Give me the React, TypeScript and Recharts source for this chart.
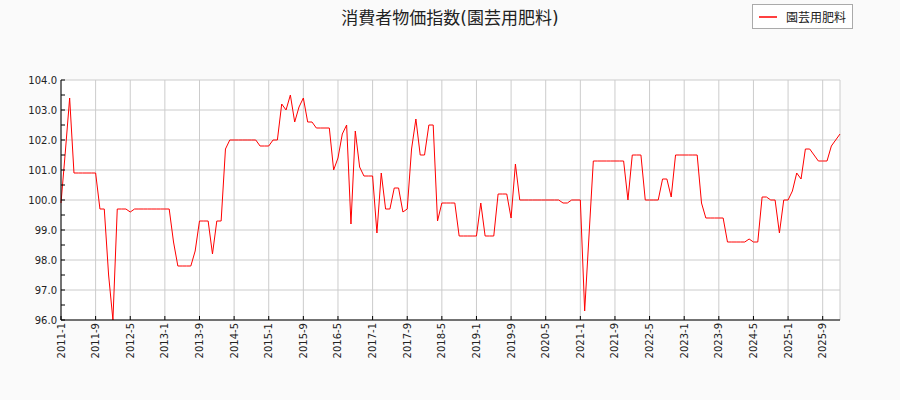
import React from 'react';
import { LineChart, Line, XAxis, YAxis, CartesianGrid, Legend } from 'recharts';

// monthly index values, one array per year (starting January)
const firstYear = 2011;
const v2011 = [99.9, 101.6, 103.4, 100.9, 100.9, 100.9, 100.9, 100.9, 100.9, 99.7, 99.7, 97.5];
const v2012 = [96.0, 99.7, 99.7, 99.7, 99.6, 99.7, 99.7, 99.7, 99.7, 99.7, 99.7, 99.7];
const v2013 = [99.7, 99.7, 98.6, 97.8, 97.8, 97.8, 97.8, 98.3, 99.3, 99.3, 99.3, 98.2];
const v2014 = [99.3, 99.3, 101.7, 102.0, 102.0, 102.0, 102.0, 102.0, 102.0, 102.0, 101.8, 101.8];
const v2015 = [101.8, 102.0, 102.0, 103.2, 103.0, 103.5, 102.6, 103.1, 103.4, 102.6, 102.6, 102.4];
const v2016 = [102.4, 102.4, 102.4, 101.0, 101.4, 102.2, 102.5, 99.2, 102.3, 101.1, 100.8, 100.8];
const v2017 = [100.8, 98.9, 100.9, 99.7, 99.7, 100.4, 100.4, 99.6, 99.7, 101.7, 102.7, 101.5];
const v2018 = [101.5, 102.5, 102.5, 99.3, 99.9, 99.9, 99.9, 99.9, 98.8, 98.8, 98.8, 98.8];
const v2019 = [98.8, 99.9, 98.8, 98.8, 98.8, 100.2, 100.2, 100.2, 99.4, 101.2, 100.0, 100.0];
const v2020 = [100.0, 100.0, 100.0, 100.0, 100.0, 100.0, 100.0, 100.0, 99.9, 99.9, 100.0, 100.0];
const v2021 = [100.0, 96.3, 98.8, 101.3, 101.3, 101.3, 101.3, 101.3, 101.3, 101.3, 101.3, 100.0];
const v2022 = [101.5, 101.5, 101.5, 100.0, 100.0, 100.0, 100.0, 100.7, 100.7, 100.1, 101.5, 101.5];
const v2023 = [101.5, 101.5, 101.5, 101.5, 99.9, 99.4, 99.4, 99.4, 99.4, 99.4, 98.6, 98.6];
const v2024 = [98.6, 98.6, 98.6, 98.7, 98.6, 98.6, 100.1, 100.1, 100.0, 100.0, 98.9, 100.0];
const v2025 = [100.0, 100.3, 100.9, 100.7, 101.7, 101.7, 101.5, 101.3, 101.3, 101.3, 101.8, 102.0];
const v2026 = [102.2];
const yearlyValues = [v2011, v2012, v2013, v2014, v2015, v2016, v2017, v2018, v2019, v2020, v2021, v2022, v2023, v2024, v2025, v2026];

const xTickLabels = [
  '2011-1', '2011-9', '2012-5', '2013-1', '2013-9', '2014-5', '2015-1', '2015-9',
  '2016-5', '2017-1', '2017-9', '2018-5', '2019-1', '2019-9', '2020-5', '2021-1',
  '2021-9', '2022-5', '2023-1', '2023-9', '2024-5', '2025-1', '2025-9',
];
const yMajorTicks = [96, 97, 98, 99, 100, 101, 102, 103, 104];
const yMinorTicks = [96.5, 97.5, 98.5, 99.5, 100.5, 101.5, 102.5, 103.5];

const seriesName = '園芸用肥料';
const title = '消費者物価指数(園芸用肥料)';

const data = yearlyValues.flatMap((vals, i) =>
  vals.map((value, m) => ({ month: `${firstYear + i}-${m + 1}`, value }))
);

const fontFamily = '"DejaVu Sans", "Noto Sans CJK JP", sans-serif';

function XTick(props: any) {
  const { x, y, payload } = props;
  return (
    <text
      x={x}
      y={y}
      transform={`rotate(-90, ${x}, ${y})`}
      dy="0.35em"
      textAnchor="end"
      fontSize={10}
      fill="#222"
      fontFamily={fontFamily}
    >
      {payload.value}
    </text>
  );
}

function YTick(props: any) {
  const { x, y, payload } = props;
  if (!yMajorTicks.includes(payload.value)) return null;
  return (
    <text x={x} y={y} dy="0.35em" textAnchor="end" fontSize={10} fill="#222" fontFamily={fontFamily}>
      {Number(payload.value).toFixed(1)}
    </text>
  );
}

function LegendBox(props: any) {
  const item = props.payload?.[0];
  return (
    <div
      style={{
        display: 'flex',
        alignItems: 'center',
        border: '1px solid #aaa',
        background: '#fff',
        padding: '3px 6px 3px 4px',
        fontSize: 12,
        fontFamily,
        color: '#222',
      }}
    >
      <svg width={22} height={10} style={{ marginRight: 7 }}>
        <line x1={2} y1={5} x2={20} y2={5} stroke={item?.color ?? '#ff0000'} strokeWidth={1.5} />
      </svg>
      {item?.value ?? seriesName}
    </div>
  );
}

export default function App() {
  return (
    <div style={{ position: 'absolute', left: 0, top: 0, width: 900, height: 400, background: '#fafafa' }}>
      <div
        style={{
          position: 'absolute',
          top: 8,
          left: 0,
          width: 900,
          textAlign: 'center',
          fontSize: 17,
          lineHeight: '20px',
          fontFamily,
          color: '#222',
        }}
      >
        {title}
      </div>
      <LineChart width={900} height={400} data={data} margin={{ top: 80, right: 60, bottom: 0, left: 0 }}>
        <CartesianGrid fill="#ffffff" stroke="#cccccc" horizontalValues={yMajorTicks} />
        <XAxis
          dataKey="month"
          ticks={xTickLabels}
          interval={0}
          height={80}
          tickSize={-4}
          tickMargin={7}
          tick={<XTick />}
          axisLine={{ stroke: '#000' }}
          tickLine={{ stroke: '#000' }}
        />
        <YAxis
          domain={[96, 104]}
          ticks={[...yMajorTicks, ...yMinorTicks].sort((a, b) => a - b)}
          interval={0}
          width={61}
          tickSize={-4}
          tickMargin={8}
          tick={<YTick />}
          axisLine={{ stroke: '#000' }}
          tickLine={{ stroke: '#000' }}
        />
        <Legend
          layout="horizontal"
          verticalAlign="middle"
          align="center"
          content={<LegendBox />}
          wrapperStyle={{ position: 'absolute', left: 752, top: 4, width: 'auto' }}
        />
        <Line
          type="linear"
          dataKey="value"
          name={seriesName}
          stroke="#ff0000"
          strokeWidth={1}
          dot={false}
          isAnimationActive={false}
        />
      </LineChart>
    </div>
  );
}
